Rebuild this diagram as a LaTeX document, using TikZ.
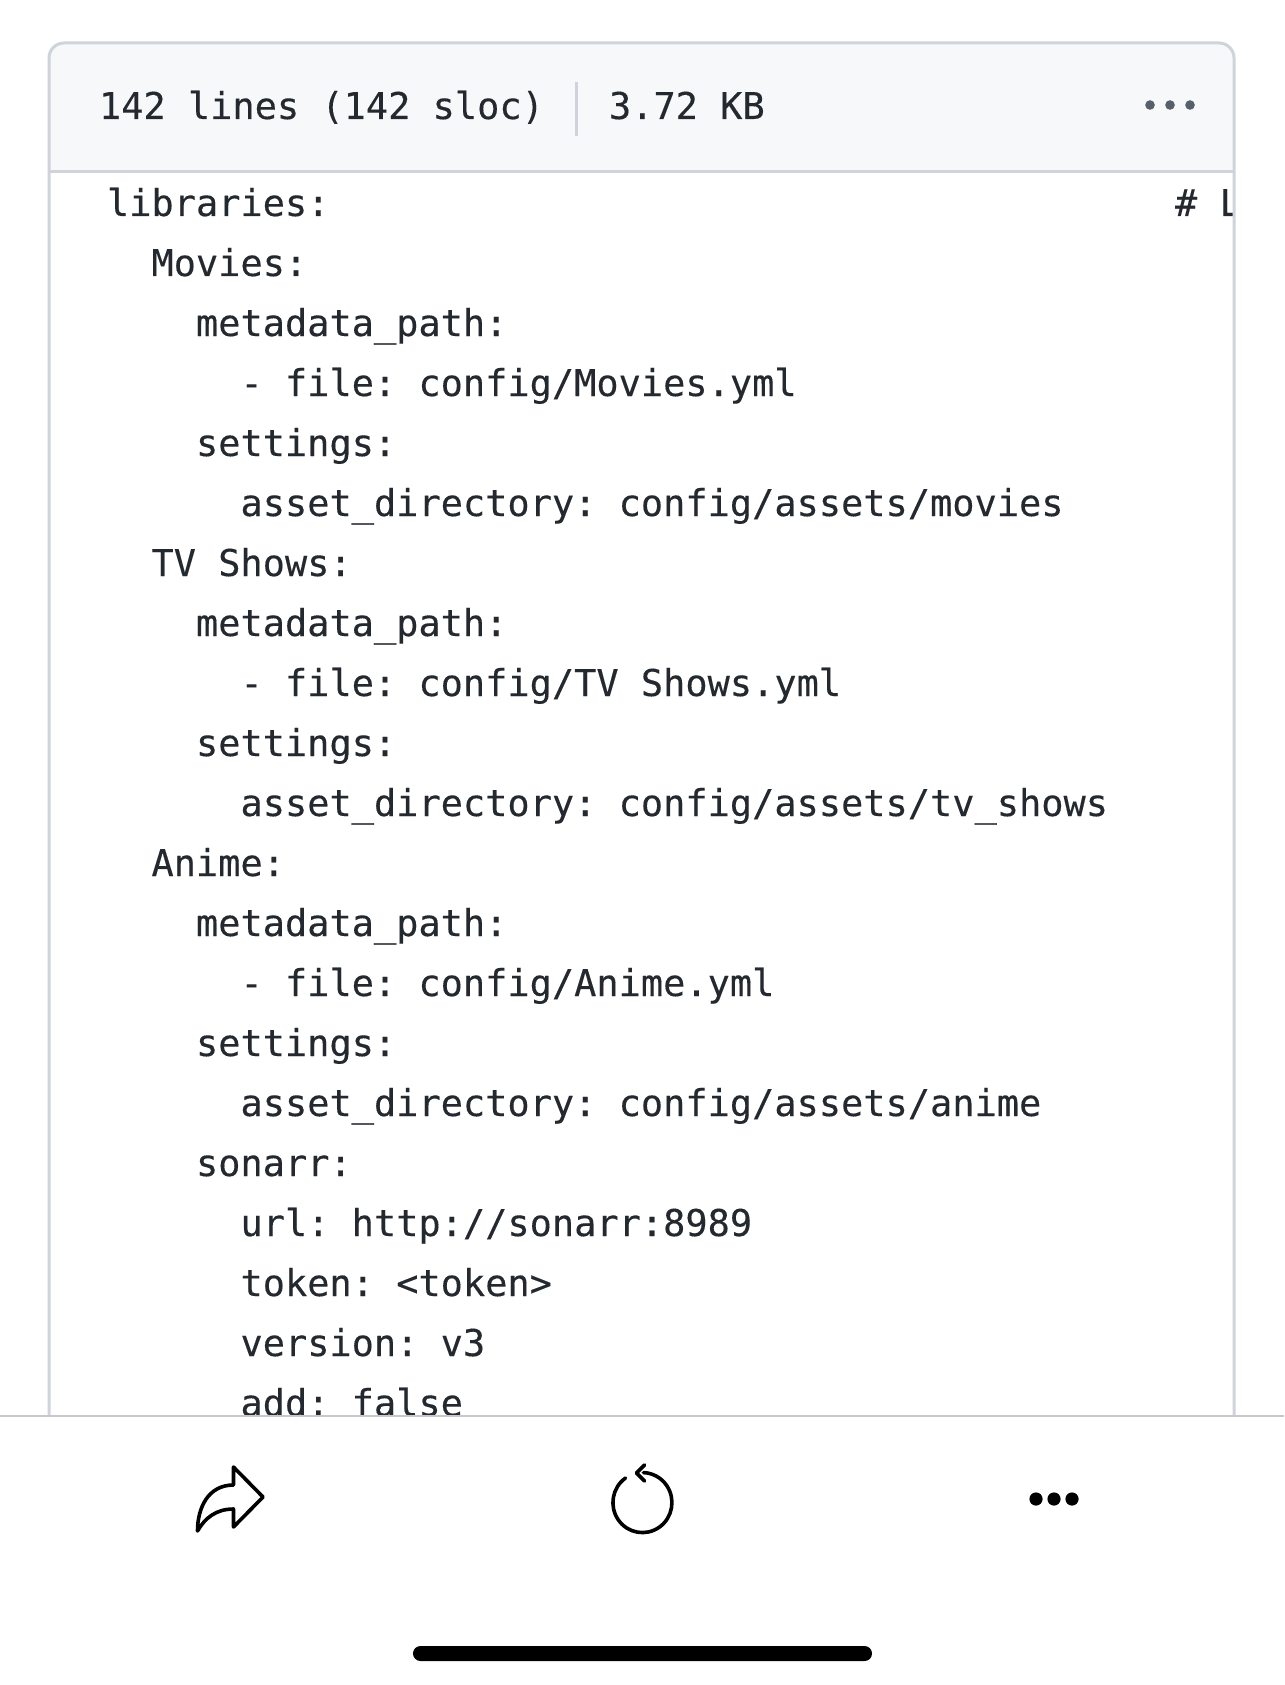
\documentclass[tikz,border=0pt]{standalone}
\usepackage{fontspec}
\setmainfont[FakeBold=0.25]{DejaVu Sans Mono}
\definecolor{edge}{HTML}{CFD4DC}
\definecolor{headbg}{HTML}{F6F8FA}
\definecolor{ink}{HTML}{24292F}
\definecolor{dotgrey}{HTML}{57606A}
\definecolor{rule}{HTML}{C8C8CC}
\tikzset{
  codeline/.style={anchor=base west,inner sep=0pt,outer sep=0pt,text=ink,font=\fontsize{36.95}{37}\selectfont\frenchspacing},
  boxedge/.style={draw=edge,line width=3pt},
  icon/.style={draw=black,line width=3.6pt,line join=round,line cap=round}
}
\begin{document}
\begin{tikzpicture}[x=1pt,y=-1pt]
\useasboundingbox (0,0) rectangle (1284,1685);
\fill[white] (0,0) rectangle (1284,1685);
% header
\fill[headbg] (49,172) -- (49,58) arc[start angle=180,end angle=270,radius=15] -- (1219,43) arc[start angle=270,end angle=360,radius=15] -- (1234,172) -- cycle;
\draw[boxedge] (49,1416) -- (49,58) arc[start angle=180,end angle=270,radius=15] -- (1219,43) arc[start angle=270,end angle=360,radius=15] -- (1234,1416);
\draw[boxedge] (49,172) -- (1234,172);
\node[codeline] (info) at (99,119) {142 lines (142 sloc)};
\draw[edge,line width=2.6pt] (576.5,82) -- (576.5,136);
\node[codeline] (size) at (609,119) {3.72 KB};
\foreach \x in {1150,1170,1190} \fill[dotgrey] (\x,105) circle[radius=4.8];
% code, cut off by the box and the toolbar
\begin{scope}
\clip (50.5,173.5) rectangle (1232.5,1415);
\newcommand{\codeat}[3]{\node[codeline] (#1) at ({107+22.25*#2},{216+60*#1}) {#3};}
\codeat{0}{0}{libraries:}
\node[codeline] (hash) at (1175,216) {\# L};
\codeat{1}{2}{Movies:}
\codeat{2}{4}{metadata\_path:}
\codeat{3}{6}{- file: config/Movies.yml}
\codeat{4}{4}{settings:}
\codeat{5}{6}{asset\_directory: config/assets/movies}
\codeat{6}{2}{TV Shows:}
\codeat{7}{4}{metadata\_path:}
\codeat{8}{6}{- file: config/TV Shows.yml}
\codeat{9}{4}{settings:}
\codeat{10}{6}{asset\_directory: config/assets/tv\_shows}
\codeat{11}{2}{Anime:}
\codeat{12}{4}{metadata\_path:}
\codeat{13}{6}{- file: config/Anime.yml}
\codeat{14}{4}{settings:}
\codeat{15}{6}{asset\_directory: config/assets/anime}
\codeat{16}{4}{sonarr:}
\codeat{17}{6}{url: http://sonarr:8989}
\codeat{18}{6}{token: <token>}
\codeat{19}{6}{version: v3}
\codeat{20}{6}{add: false}
\end{scope}
% toolbar
\fill[white] (0,1417) rectangle (1284,1685);
\draw[rule,line width=1.8pt] (0,1416) -- (1284,1416);
\draw[icon] (233.5,1467) -- (263,1497) -- (233.5,1527) -- (233.5,1509) .. controls (216,1509) and (205,1518) .. (197.5,1531) .. controls (197.5,1508) and (208,1485) .. (233.5,1485) -- cycle;
\draw[icon] (625.5,1478) arc[start angle=235,end angle=-88,x radius=29.5,y radius=30];
\draw[icon] (644.5,1465) -- (636.5,1473) -- (644.5,1481);
\foreach \x in {1036,1054,1072} \fill[black] (\x,1499) circle[radius=6.6];
\fill[black,rounded corners=7.4pt] (413,1646) rectangle (872,1661);
\end{tikzpicture}
\end{document}
